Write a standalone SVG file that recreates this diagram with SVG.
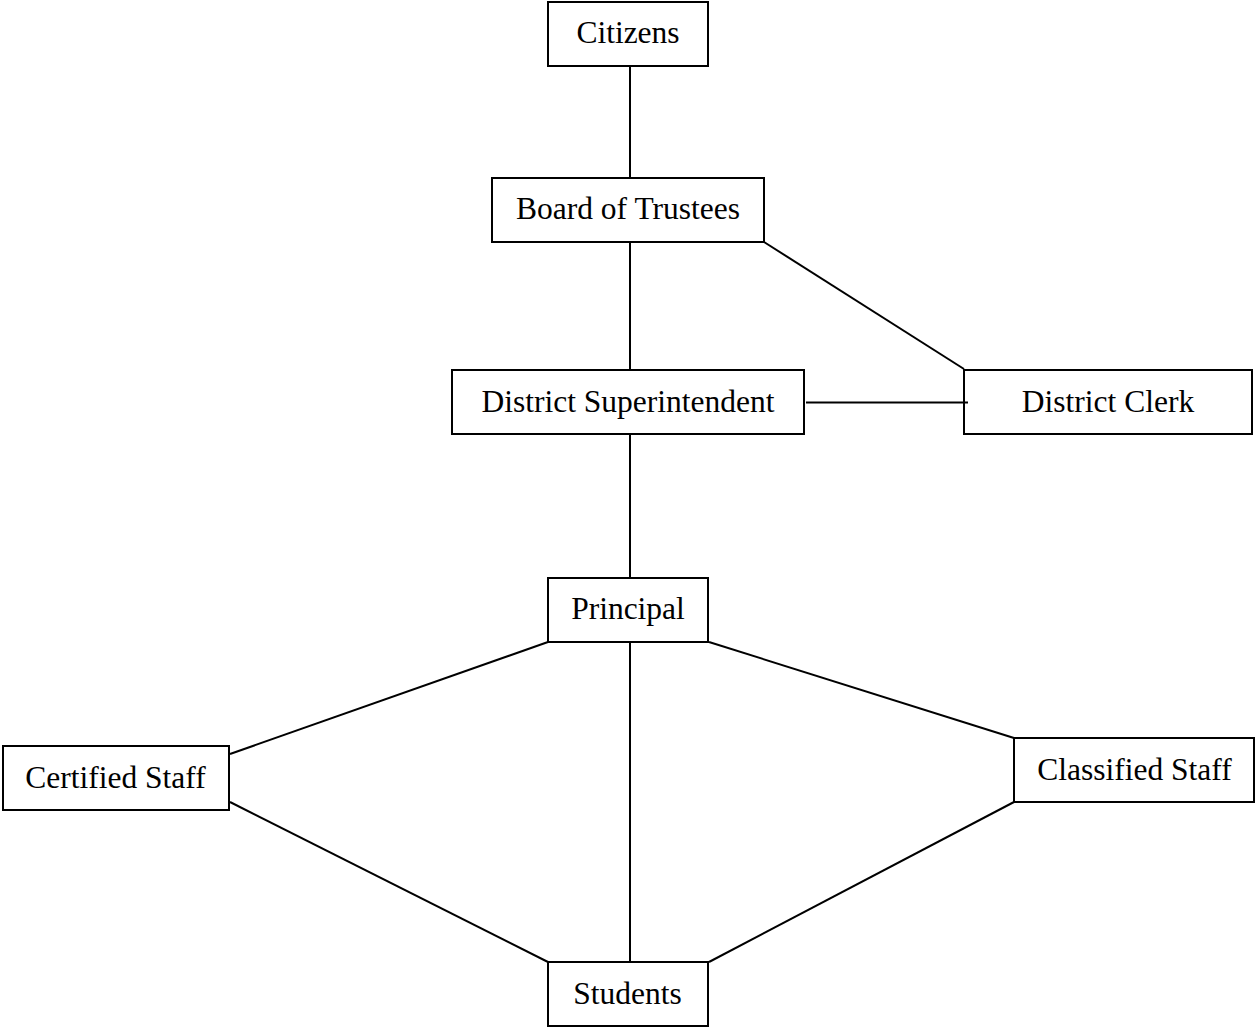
<svg xmlns="http://www.w3.org/2000/svg" width="1255" height="1028" viewBox="0 0 1255 1028">
<style>
.box{fill:none;stroke:#000;stroke-width:2}
.lbl{font-family:"Liberation Serif","Times New Roman",serif;font-size:31.5px;fill:#000;text-anchor:middle}
.con line{stroke:#000;stroke-width:2}
</style>
<rect width="1255" height="1028" fill="#fff"/>
<g id="connectors" class="con">
<line x1="630" y1="66" x2="630" y2="178"/>
<line x1="630" y1="242" x2="630" y2="370"/>
<line x1="764" y1="242" x2="964" y2="369"/>
<line x1="806" y1="402.5" x2="968" y2="402.5"/>
<line x1="630" y1="434" x2="630" y2="578"/>
<line x1="630" y1="642" x2="630" y2="962"/>
<line x1="548" y1="642" x2="230" y2="754"/>
<line x1="230" y1="802" x2="548" y2="962"/>
<line x1="709" y1="642" x2="1014" y2="738"/>
<line x1="1014" y1="802" x2="709" y2="962"/>
</g>
<g id="citizens"><rect class="box" x="548" y="2" width="160" height="64"/><text class="lbl" x="628" y="43">Citizens</text></g>
<g id="board"><rect class="box" x="492" y="178" width="272" height="64"/><text class="lbl" x="628" y="219">Board of Trustees</text></g>
<g id="superintendent"><rect class="box" x="452" y="370" width="352" height="64"/><text class="lbl" x="628" y="411.5">District Superintendent</text></g>
<g id="clerk"><rect class="box" x="964" y="370" width="288" height="64"/><text class="lbl" x="1108" y="411.5">District Clerk</text></g>
<g id="principal"><rect class="box" x="548" y="578" width="160" height="64"/><text class="lbl" x="628" y="619">Principal</text></g>
<g id="certified"><rect class="box" x="3" y="746" width="226" height="64"/><text class="lbl" x="115.5" y="787.5">Certified Staff</text></g>
<g id="classified"><rect class="box" x="1014" y="738" width="240" height="64"/><text class="lbl" x="1134.5" y="779.5">Classified Staff</text></g>
<g id="students"><rect class="box" x="548" y="962" width="160" height="64"/><text class="lbl" x="627.5" y="1003.5">Students</text></g>
</svg>
